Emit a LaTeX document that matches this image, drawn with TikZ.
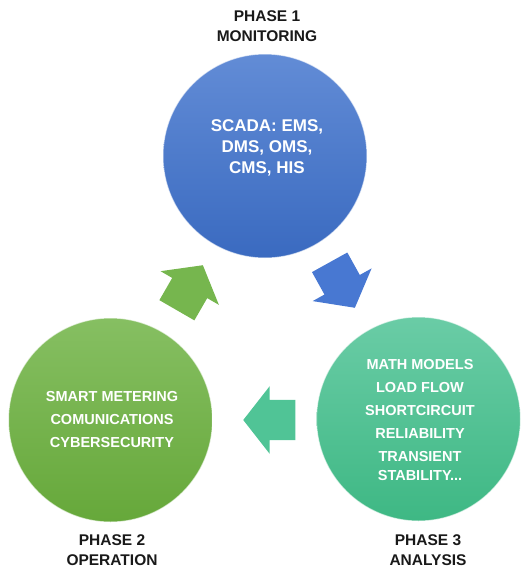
\documentclass[tikz,border=0pt]{standalone}
\usepackage{fontspec}
\setmainfont{Liberation Sans}
\usetikzlibrary{shapes.arrows}
\definecolor{blu1}{RGB}{98,140,214}
\definecolor{blu2}{RGB}{58,106,192}
\definecolor{grn1}{RGB}{134,191,98}
\definecolor{grn2}{RGB}{102,168,58}
\definecolor{tea1}{RGB}{106,204,166}
\definecolor{tea2}{RGB}{62,184,132}
\definecolor{bluarrow}{RGB}{72,120,210}
\definecolor{grnarrow}{RGB}{118,182,78}
\definecolor{teaarrow}{RGB}{80,196,150}
\begin{document}
\begin{tikzpicture}[x=1pt,y=-1pt,
    phase/.style={circle,minimum size=204pt,inner sep=0pt,draw=white,draw opacity=0.6,line width=1pt},
    intext/.style={text=white,font=\bfseries\fontsize{14.5}{23}\selectfont,align=center},
    blockarrow/.style={single arrow,minimum height=52pt,inner xsep=0pt,inner ysep=20pt,single arrow head extend=13.5pt,single arrow tip angle=104,anchor=tip},
    title/.style={font=\bfseries\fontsize{15.5}{20}\selectfont,align=center,text=black!90}]
    \useasboundingbox (0,0) rectangle (522,571);
    %draw circles
    \foreach \n/\x/\y/\c in {mon/265/156/blu,ope/110.5/420/grn,ana/418.5/419/tea}
        {%
            \node[phase,top color=\c1,bottom color=\c2] (\n) at (\x,\y) {};
        }
    %draw arrows
    \node[blockarrow,fill=bluarrow,rotate=-61] (monana) at (355,308) {};
    \node[blockarrow,fill=teaarrow,rotate=180] (anaope) at (243,420) {};
    \node[blockarrow,fill=grnarrow,rotate=60] (opemon) at (203,265) {};
    %draw texts
    \node[intext,font=\bfseries\fontsize{17}{21}\selectfont] (montext) at (267,148) {SCADA: EMS,\\DMS, OMS,\\CMS, HIS};
    \node[intext] (opetext) at (112,420) {SMART METERING\\COMUNICATIONS\\CYBERSECURITY};
    \node[intext] (anatext) at (420,420) {MATH MODELS\\LOAD FLOW\\SHORTCIRCUIT\\RELIABILITY\\TRANSIENT\\[-4.5pt]STABILITY...};
    \node[title] (montitle) at (267,26) {PHASE 1\\MONITORING};
    \node[title] (opetitle) at (112,550) {PHASE 2\\OPERATION};
    \node[title] (anatitle) at (428,550) {PHASE 3\\ANALYSIS};
\end{tikzpicture}
\end{document}
